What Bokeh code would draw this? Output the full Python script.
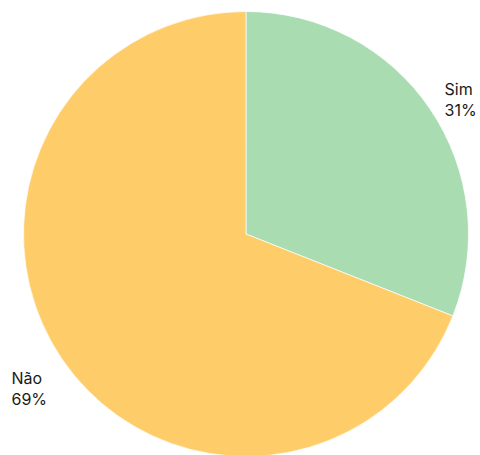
import math
from bokeh.plotting import figure
from bokeh.models import Range1d, ColumnDataSource
from bokeh.core.properties import value
from bokeh.embed import file_html
from bokeh.resources import INLINE

categories = ["Sim", "Não"]
percents = [31, 69]
colors = ["#A9DCB1", "#FECD6A"]

W, H = 480, 455
cx, cy_img, r = 245.5, 233.5, 222.5
cy = H - cy_img

p = figure(width=W, height=H, output_backend="svg", toolbar_location=None,
           x_range=Range1d(0, W), y_range=Range1d(0, H), min_border=0)
p.axis.visible = False
p.grid.visible = False
p.outline_line_color = None
p.background_fill_color = "white"
p.border_fill_color = "white"

total = sum(percents)
starts, ends = [], []
acc = 0.0
for v in percents:
    # clockwise from 12 o'clock
    a0 = math.pi / 2 - 2 * math.pi * (acc + v) / total
    a1 = math.pi / 2 - 2 * math.pi * acc / total
    starts.append(a0)
    ends.append(a1)
    acc += v

src = ColumnDataSource(dict(start=starts, end=ends, color=colors))
p.wedge(x=cx, y=cy, radius=r, start_angle="start", end_angle="end",
        fill_color="color", line_color="white", line_width=0.7, source=src)

# labels
lab_x = [444, 11]
lab_y_img = [88, 377]
names = categories
pcts = [f"{v}%" for v in percents]
p.text(x=lab_x, y=[H - y for y in lab_y_img], text=names,
       text_font=value("Inter"), text_font_size="16px", text_color="#1a1a1a",
       text_baseline="alphabetic", text_align="left")
p.text(x=lab_x, y=[H - (y + 21) for y in lab_y_img], text=pcts,
       text_font=value("Inter"), text_font_size="16px", text_color="#1a1a1a",
       text_baseline="alphabetic", text_align="left")

open("out.html", "w").write(file_html(p, INLINE))
